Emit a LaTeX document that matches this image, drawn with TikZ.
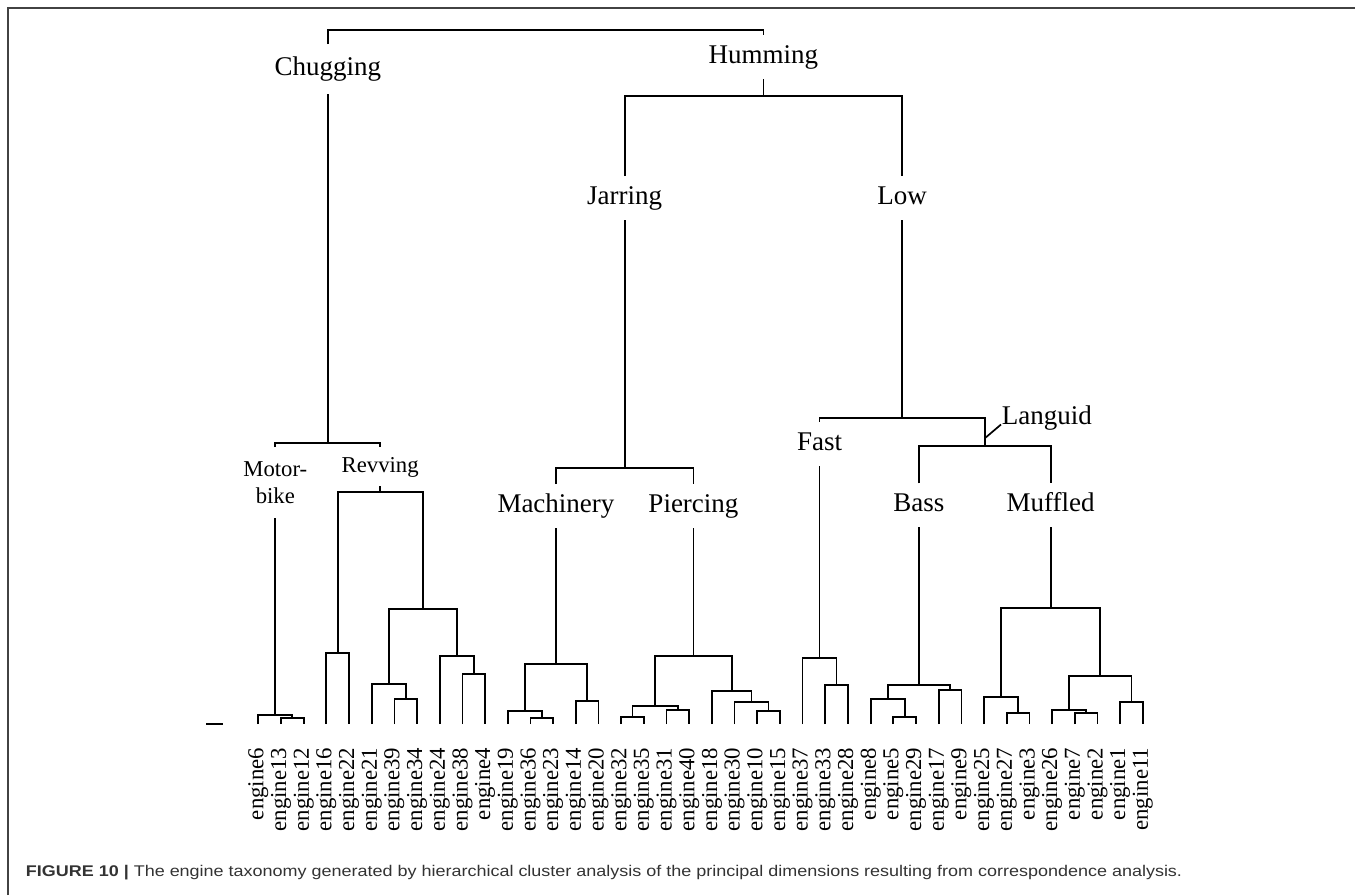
\documentclass[tikz,border=0pt]{standalone}
\usepackage{fontspec}
\setmainfont{Liberation Serif}
\newfontfamily\legendafont[FakeStretch=1.16]{Liberation Sans}
\usepackage{tikz}
\definecolor{gray800}{HTML}{424242}
\definecolor{gray900}{HTML}{333333}
\usetikzlibrary{calc}
\tikzstyle{rotulo}=[inner sep=0pt, minimum height=42pt, text height=19pt, text depth=6pt, font=\fontsize{27}{30}\selectfont]
\tikzstyle{rotulopeq}=[inner sep=0pt, minimum height=37pt, text height=16pt, text depth=5pt, font=\fontsize{22.7}{27}\selectfont]
\tikzstyle{duaslinhas}=[inner sep=0pt, minimum height=68.7pt, align=center, font=\fontsize{22.7}{27}\selectfont]
\tikzstyle{folha}=[rotate=90, anchor=east, inner sep=0pt, font=\fontsize{22.8}{24}\selectfont]
\tikzstyle{moldura}=[draw=gray800, line width=1.5pt]
\tikzstyle{legenda}=[inner sep=0pt, text=gray900, font=\legendafont\fontsize{15.5}{17}\selectfont]
% juncao de dois grupos: nome, esquerda, direita, altura
\newcommand{\junta}[4]{%
  \path let \p1=(#2), \p2=(#3) in ({(\x1+\x2)/2},#4) coordinate (#1);
  \draw (#2) |- (#1) -| (#3);
}

\begin{document}
\begin{tikzpicture}[x=1pt, y=-1pt, line width=1.7pt]
			\useasboundingbox (0,0) rectangle (1355,895);
			\draw[moldura] (8,895) -- (8,8) -- (1355,8);
			% folhas
			\foreach \e [count=\i from 0] in {6,13,12,16,22,21,39,34,24,38,4,19,36,23,14,20,32,35,31,40,18,30,10,15,37,33,28,8,5,29,17,9,25,27,3,26,7,2,1,11}{
				\coordinate (e\e) at ({258.3+22.68*\i},724);
				\node[folha] (n\e) at ({258.3+22.68*\i},747) {engine\e};
			}
			\draw (206,724) -- (223,724);
			% Motor-bike e Revving
			\junta{a1}{e13}{e12}{717.7}
			\junta{a2}{e6}{a1}{715.3}
			\junta{a3}{e16}{e22}{653.3}
			\junta{a4}{e39}{e34}{698.7}
			\junta{a5}{e21}{a4}{684.3}
			\junta{a6}{e38}{e4}{674}
			\junta{a7}{e24}{a6}{656}
			\junta{a8}{a5}{a7}{609.3}
			\junta{rev}{a3}{a8}{491.7}
			% Machinery e Piercing
			\junta{m1}{e36}{e23}{717.7}
			\junta{m2}{e19}{m1}{710.7}
			\junta{m3}{e14}{e20}{701.3}
			\junta{mac}{m2}{m3}{664.3}
			\junta{p1}{e32}{e35}{717}
			\junta{p2}{e31}{e40}{709.7}
			\junta{p3}{p1}{p2}{706}
			\junta{p4}{e10}{e15}{710.7}
			\junta{p5}{e30}{p4}{702}
			\junta{p6}{e18}{p5}{690.7}
			\junta{pie}{p3}{p6}{656}
			% Fast, Bass e Muffled
			\junta{f1}{e33}{e28}{684.7}
			\junta{fas}{e37}{f1}{658}
			\junta{b1}{e5}{e29}{717.3}
			\junta{b2}{e8}{b1}{698.7}
			\junta{b3}{e17}{e9}{690}
			\junta{bas}{b2}{b3}{685}
			\junta{u1}{e27}{e3}{713}
			\junta{u2}{e25}{u1}{697}
			\junta{u3}{e7}{e2}{713}
			\junta{u4}{e26}{u3}{710}
			\junta{u5}{e1}{e11}{701.7}
			\junta{u6}{u4}{u5}{676}
			\junta{muf}{u2}{u6}{608.3}
			% Chugging
			\node[duaslinhas] (motorbike) at (a2 |- 0,482.3) {Motor-\\bike};
			\node[rotulopeq] (revving) at (rev |- 0,466.5) {Revving};
			\draw (a2) -- (motorbike.south);
			\draw (rev) -- (revving.south);
			\junta{chu}{motorbike.north}{revving.north}{442.7}
			\node[rotulo, minimum height=48pt] (chugging) at (chu |- 0,69) {Chugging};
			\draw (chu) -- (chugging.south);
			% Jarring
			\node[rotulo] (machinery) at (mac |- 0,506) {Machinery};
			\node[rotulo] (piercing) at (pie |- 0,506) {Piercing};
			\draw (mac) -- (machinery.south);
			\draw (pie) -- (piercing.south);
			\junta{jar}{machinery.north}{piercing.north}{467.7}
			\node[rotulo] (jarring) at (jar |- 0,198) {Jarring};
			\draw (jar) -- (jarring.south);
			% Low
			\node[rotulo] (bass) at (bas |- 0,505.3) {Bass};
			\node[rotulo] (muffled) at (muf |- 0,505.3) {Muffled};
			\draw (bas) -- (bass.south);
			\draw (muf) -- (muffled.south);
			\junta{lan}{bass.north}{muffled.north}{446}
			\node[rotulo] (fast) at (fas |- 0,443.8) {Fast};
			\draw (fas) -- (fast.south);
			\junta{lo}{fast.north}{lan}{418.3}
			\coordinate (lp) at (lan |- 0,438.3);
			\node[rotulo, minimum height=0pt, anchor=base west] (languid) at (1001,424.5) {Languid};
			\draw (lp) -- (languid.base west);
			\node[rotulo] (low) at (lo |- 0,198) {Low};
			\draw (lo) -- (low.south);
			% Humming e topo
			\junta{hum}{jarring.north}{low.north}{96}
			\node[rotulo] (humming) at (hum |- 0,57) {Humming};
			\draw (hum) -- (humming.south);
			\junta{topo}{chugging.north}{humming.north}{30}
			% legenda
			\node[legenda, anchor=base west] (cap) at (25,876) {\textbf{FIGURE 10 |} The engine taxonomy generated by hierarchical cluster analysis of the principal dimensions resulting from correspondence analysis.};
		\end{tikzpicture}
\end{document}
